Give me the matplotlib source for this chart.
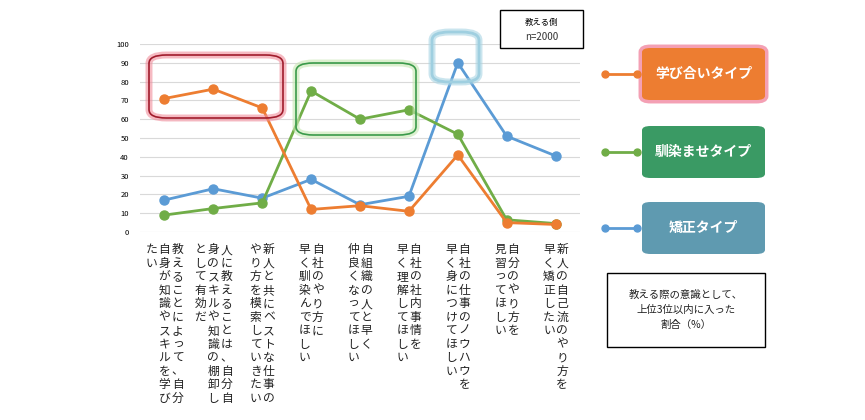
import matplotlib.pyplot as plt
from matplotlib.patches import FancyBboxPatch, Rectangle
from matplotlib.lines import Line2D

plt.rcParams['font.family'] = 'Noto Sans CJK JP'

# category labels: vertical columns, listed right-to-left as read
labels = [
    ["教えることによって、自分", "自身が知識やスキルを学び", "たい"],
    ["人に教えることは、自分自", "身のスキルや知識の棚卸し", "として有効だ"],
    ["新人と共にベストな仕事の", "やり方を模索していきたい"],
    ["自社のやり方に", "早く馴染んでほしい"],
    ["自組織の人と早く", "仲良くなってほしい"],
    ["自社の社内事情を", "早く理解してほしい"],
    ["自社の仕事のノウハウを", "早く身につけてほしい"],
    ["自分のやり方を", "見習ってほしい"],
    ["新人の自己流のやり方を", "早く矯正したい"],
]
manabi = [71, 76, 66, 12, 14, 11, 41, 5, 4]
najimase = [9, 12.5, 15.5, 75, 60, 65, 52, 6.5, 4.5]
kyosei = [17, 23, 18, 28, 14.5, 19, 90, 51, 40.5]
series_names = ["学び合いタイプ", "馴染ませタイプ", "矯正タイプ"]

c_or, c_gr, c_bl = '#ed7d31', '#70ad47', '#5b9bd5'

W, H = 865, 420
fig = plt.figure(figsize=(W / 100, H / 100), dpi=100)
ax = fig.add_axes([140 / W, 1 - 232 / H, 440 / W, 188 / H])
x = list(range(len(labels)))
for vals, c in [(kyosei, c_bl), (najimase, c_gr), (manabi, c_or)]:
    ax.plot(x, vals, color=c, lw=2, marker='o', ms=6.5)
ax.set_xlim(-0.5, len(labels) - 0.5)
ax.set_ylim(0, 100)
ax.set_yticks(range(0, 101, 10))
ax.tick_params(axis='y', labelsize=5.5, length=0, pad=8)
ax.set_xticks([])
ax.grid(axis='y', color='#d9d9d9', lw=0.8)
ax.set_axisbelow(True)
for s in ax.spines.values():
    s.set_visible(False)

# vertical labels
for i, cols in enumerate(labels):
    n = len(cols)
    for j, col in enumerate(cols):
        xoff = (n - 1) / 2 * 0.27 - j * 0.27
        ax.text(i + xoff, -6, "\n".join(col), ha='center', va='top',
                fontsize=8.5, linespacing=1.05, color='#222222',
                transform=ax.transData, clip_on=False)

def px(x0, y0, w, h):
    return (x0 / W, 1 - (y0 + h) / H, w / W, h / H)

def rbox(x0, y0, w, h, ec, glow, lw=1.2):
    l, b, ww, hh = px(x0, y0, w, h)
    fig.add_artist(FancyBboxPatch((l, b), ww, hh, boxstyle='round,pad=0,rounding_size=0.02',
                                  transform=fig.transFigure, fc='none', ec=glow, lw=5, alpha=0.6))
    fig.add_artist(FancyBboxPatch((l, b), ww, hh, boxstyle='round,pad=0,rounding_size=0.02',
                                  transform=fig.transFigure, fc='none', ec=ec, lw=lw))

rbox(149, 55, 134, 63, '#a01c2c', '#f08c9a')
rbox(296, 63, 120, 72, '#3a9a4a', '#c5e6b0')
rbox(432, 32, 47, 50, '#9fcfe0', '#a8d4e4', lw=2)

# n box
l, b, ww, hh = px(500, 10, 83, 38)
fig.add_artist(Rectangle((l, b), ww, hh, transform=fig.transFigure, fc='white', ec='black', lw=1))
fig.text(541.5 / W, 1 - 22 / H, "教える側", ha='center', va='center', fontsize=6)
fig.text(541.5 / W, 1 - 37 / H, "n=2000", ha='center', va='center', fontsize=7, color='#333333')

# legend boxes
for k, (name, c, fc, y0) in enumerate([
        (series_names[0], c_or, '#ed7d31', 48),
        (series_names[1], c_gr, '#3a9a64', 126),
        (series_names[2], c_bl, '#5f9ab0', 202)]):
    yc = y0 + 26
    fig.add_artist(Line2D([605 / W, 637 / W], [1 - yc / H] * 2, color=c, lw=2,
                          marker='o', ms=5, markevery=[0, 1], transform=fig.transFigure))
    l, b, ww, hh = px(642, y0, 123, 52)
    if k == 0:
        fig.add_artist(FancyBboxPatch((l, b), ww, hh, boxstyle='round,pad=0,rounding_size=0.01',
                                      transform=fig.transFigure, fc='none', ec='#f4a0b4', lw=5))
    fig.add_artist(FancyBboxPatch((l, b), ww, hh, boxstyle='round,pad=0,rounding_size=0.01',
                                  transform=fig.transFigure, fc=fc, ec='none'))
    fig.text(703.5 / W, 1 - yc / H, name, ha='center', va='center', fontsize=10,
             color='white', fontweight='bold')

# note box
l, b, ww, hh = px(607, 273, 158, 74)
fig.add_artist(Rectangle((l, b), ww, hh, transform=fig.transFigure, fc='white', ec='black', lw=1))
fig.text(686 / W, 1 - 310 / H, "教える際の意識として、\n上位3位以内に入った\n割合（%）", ha='center',
         va='center', fontsize=7.5, linespacing=1.6, color='#222222')

fig.savefig('out.png', dpi=100)
